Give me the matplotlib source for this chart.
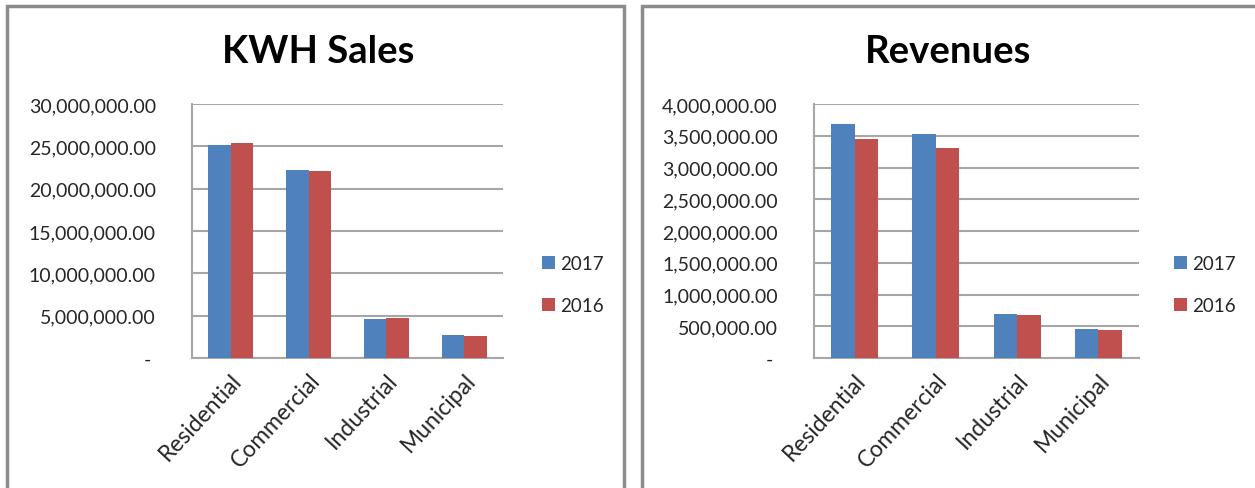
import matplotlib
matplotlib.use("Agg")
from matplotlib import pyplot as plt
from matplotlib.patches import Rectangle
import numpy as np

categories = ["Residential", "Commercial", "Industrial", "Municipal"]
years = ["2017", "2016"]

kwh_2017 = [25190000, 22200000, 4600000, 2720000]
kwh_2016 = [25390000, 22050000, 4720000, 2560000]

rev_2017 = [3690000, 3530000, 700000, 457000]
rev_2016 = [3450000, 3310000, 680000, 440000]

kwh_ticks = [0, 5000000, 10000000, 15000000, 20000000, 25000000, 30000000]
rev_ticks = [0, 500000, 1000000, 1500000, 2000000, 2500000, 3000000, 3500000, 4000000]

blue = "#4F81BD"
red = "#C0504D"
grid_gray = "#A6A6A6"

plt.rcParams["font.family"] = ["Lato", "DejaVu Sans"]

W, H = 1255, 489
fig = plt.figure(figsize=(W / 100, H / 100), dpi=100)


def px(x0, y0, x1, y1):
    # pixel box -> figure fraction [left, bottom, width, height]
    return [x0 / W, 1 - y1 / H, (x1 - x0) / W, (y1 - y0) / H]


# panel frames
fig.patches.append(Rectangle((7 / W, -0.01), 617 / W, 1 - 7 / H + 0.01,
                             transform=fig.transFigure, fill=False,
                             edgecolor="#8C8C8C", linewidth=2.5))
fig.patches.append(Rectangle((642 / W, -0.01), 0.5, 1 - 7 / H + 0.01,
                             transform=fig.transFigure, fill=False,
                             edgecolor="#8C8C8C", linewidth=2.5))


def fmt(v):
    return "- " if v == 0 else "{:,.2f}".format(v)


def draw(box, title, title_x, v17, v16, ticks, leg_x):
    ax = fig.add_axes(px(*box))
    x = np.arange(len(categories))
    w = 0.29
    ax.bar(x - w / 2, v17, w, color=blue, label=years[0], zorder=3)
    ax.bar(x + w / 2, v16, w, color=red, label=years[1], zorder=3)
    ax.set_xlim(-0.5, len(categories) - 0.5)
    ax.set_ylim(0, ticks[-1])
    ax.set_yticks(ticks)
    ax.set_yticklabels([fmt(t) for t in ticks], fontsize=14, color="#262626")
    ax.set_xticks(x)
    ax.set_xticklabels(categories, rotation=47, ha="right",
                       rotation_mode="anchor", fontsize=16.5, color="#262626")
    ax.tick_params(axis="y", length=0, pad=26)
    ax.tick_params(axis="x", length=0, pad=8)
    ax.yaxis.grid(True, color=grid_gray, linewidth=1.5, zorder=0)
    for s in ["top", "right"]:
        ax.spines[s].set_visible(False)
    for s in ["left", "bottom"]:
        ax.spines[s].set_color(grid_gray)
        ax.spines[s].set_linewidth(1.5)
    fig.text(title_x / W, 1 - 52 / H, title, fontsize=27.5, fontweight="bold",
             ha="center", va="center")
    ax.legend(loc="center left", bbox_to_anchor=(leg_x, 0.29),
              frameon=False, fontsize=13.5, handlelength=0.7, handleheight=0.7,
              handletextpad=0.3, labelspacing=1.35, labelcolor="#262626")
    return ax


draw((192, 105, 503, 359), "KWH Sales", 318, kwh_2017, kwh_2016, kwh_ticks, 1.07)
draw((814, 105, 1139, 359), "Revenues", 948, rev_2017, rev_2016, rev_ticks, 1.055)

fig.savefig("out.png", dpi=100, facecolor="white")
